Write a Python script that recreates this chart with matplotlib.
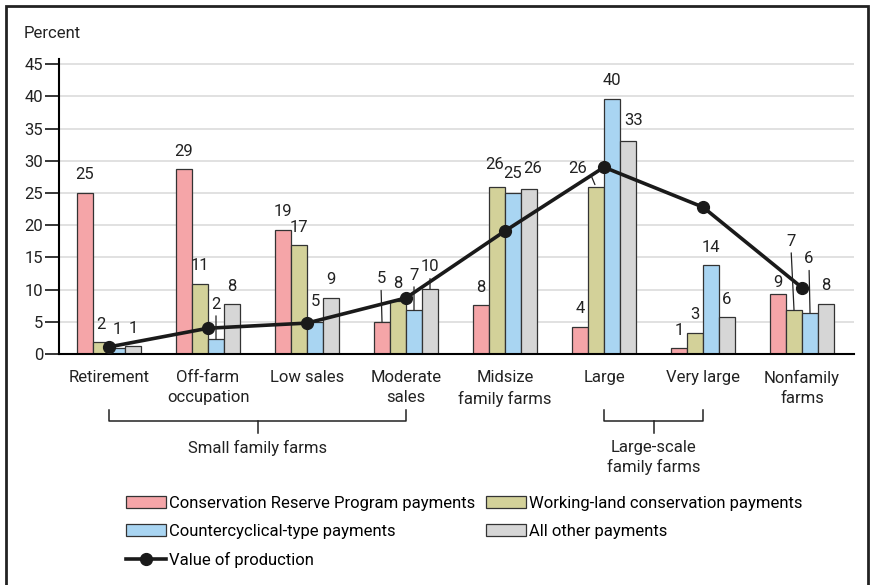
import numpy as np
import matplotlib
matplotlib.use("Agg")
import matplotlib.pyplot as plt
from matplotlib.patches import Rectangle
import matplotlib.transforms as mtransforms

plt.rcParams["font.family"] = ["Roboto", "DejaVu Sans"]
FS = 12
plt.rcParams["font.size"] = FS

categories = ["Retirement", "Off-farm\noccupation", "Low sales", "Moderate\nsales",
              "Midsize\nfamily farms", "Large", "Very large", "Nonfamily\nfarms"]

series_names = ["Conservation Reserve Program payments",
                "Working-land conservation payments",
                "Countercyclical-type payments",
                "All other payments"]

crp = [25.0, 28.7, 19.3, 5.0, 7.6, 4.2, 0.9, 9.3]
working_land = [1.8, 10.9, 16.9, 8.2, 25.9, 25.9, 3.3, 6.8]
countercyclical = [1.0, 2.3, 5.0, 6.8, 25.0, 39.6, 13.8, 6.4]
all_other = [1.2, 7.7, 8.7, 10.1, 25.6, 33.1, 5.7, 7.8]

crp_labels = ["25", "29", "19", "5", "8", "4", "1", "9"]
wl_labels = ["2", "11", "17", "8", "26", "26", "3", "7"]
cc_labels = ["1", "2", "5", "7", "25", "40", "14", "6"]
other_labels = ["1", "8", "9", "10", "26", "33", "6", "8"]

value_of_production = [1.1, 4.0, 4.8, 8.7, 19.1, 29.0, 22.8, 10.3]

colors = ["#F5A5A8", "#D3D199", "#A9D5F2", "#D6D6D6"]

# label offsets in pixels (dx, dy) and whether a leader line is drawn
label_offsets = {
    (1, 2): (0, 35, True),
    (3, 0): (-1, 43, True),
    (3, 2): (0, 35, True),
    (3, 3): (0, 22, True),
    (2, 2): (0, 20, False),
    (4, 1): (-2, 23, False),
    (4, 2): (0, 19, False),
    (4, 3): (4, 21, False),
    (5, 1): (-18, 19, "diag"),
    (5, 3): (6, 20, False),
    (7, 0): (0, 12, False),
    (7, 1): (-3, 69, True),
    (7, 2): (-1, 54, True),
}

fig = plt.figure(figsize=(8.71, 5.85), dpi=100)
ax = fig.add_axes([59 / 871, 1 - 354 / 585, (854 - 59) / 871, (354 - 59) / 585])

x = np.arange(len(categories))
w = 16 / 99
all_series = [crp, working_land, countercyclical, all_other]
all_labels = [crp_labels, wl_labels, cc_labels, other_labels]

for s, (vals, col) in enumerate(zip(all_series, colors)):
    xs = x + (s - 1.5) * w
    ax.bar(xs, vals, w, color=col, edgecolor="#333333", linewidth=0.9, zorder=2,
           label=series_names[s])
    for i, (xi, v) in enumerate(zip(xs, vals)):
        dx, dy, leader = label_offsets.get((i, s), (0, 18, False))
        kw = {}
        if leader is True:
            kw["arrowprops"] = dict(arrowstyle="-", lw=0.9, color="#222222",
                                    shrinkA=1, shrinkB=0, relpos=(0.5, 0))
        elif leader == "diag":
            kw["arrowprops"] = dict(arrowstyle="-", lw=0.9, color="#222222",
                                    shrinkA=1, shrinkB=2, relpos=(1, 0.6))
        ax.annotate(all_labels[s][i], (xi, v), xytext=(dx, dy), textcoords="offset pixels",
                    ha="center", va="center", fontsize=FS, color="#222222", zorder=5, **kw)

ax.plot(x, value_of_production, color="#1a1a1a", lw=2.6, marker="o", markersize=8.5,
        zorder=4, label="Value of production")

ax.set_xlim(-0.505, 7.525)
ax.set_ylim(0, 45.8)
ax.set_yticks(np.arange(0, 46, 5))
ax.yaxis.grid(True, color="#D8D8D8", lw=1.1, zorder=0)
ax.set_axisbelow(True)
ax.set_xticks(x)
ax.set_xticklabels(categories, linespacing=1.45, color="#222222")
ax.tick_params(axis="x", length=0, pad=11.5, labelsize=FS)
ax.tick_params(axis="y", length=10, width=1.1, pad=1.5, labelsize=FS, labelcolor="#222222")
for side in ["top", "right"]:
    ax.spines[side].set_visible(False)
ax.spines["left"].set_linewidth(1.5)
ax.spines["bottom"].set_linewidth(1.5)

# group brackets
tr = mtransforms.blended_transform_factory(ax.transData, ax.transAxes)
def bracket(x0, x1, text):
    y_top, y_bot, y_tick = -0.19, -0.227, -0.268
    xm = (x0 + x1) / 2
    ax.plot([x0, x0, x1, x1], [y_top, y_bot, y_bot, y_top], color="#222222", lw=1.1,
            transform=tr, clip_on=False)
    ax.plot([xm, xm], [y_bot, y_tick], color="#222222", lw=1.1, transform=tr, clip_on=False)
    ax.text(xm, -0.292, text, ha="center", va="top", transform=tr, fontsize=FS,
            linespacing=1.3, color="#222222")

bracket(0, 3, "Small family farms")
bracket(5, 6, "Large-scale\nfamily farms")

fig.text(24 / 871, 1 - 33 / 585, "Percent", ha="left", va="center", fontsize=FS, color="#222222")

handles, labels = ax.get_legend_handles_labels()
hmap = dict(zip(labels, handles))
order = [series_names[0], series_names[2], "Value of production", series_names[1], series_names[3]]
fig.legend([hmap[k] for k in order], order, loc="upper left",
           bbox_to_anchor=(126 / 871, 1 - 496 / 585), ncol=2, frameon=False,
           borderpad=0, borderaxespad=0, handlelength=2.4, handleheight=0.7,
           handletextpad=0.2, columnspacing=0.6, labelspacing=0.78, fontsize=FS)

fig.add_artist(Rectangle((6 / 871, -0.05), (868 - 6) / 871, 1.05 - 6 / 585,
                         transform=fig.transFigure, fill=False, edgecolor="#222222", lw=2))

fig.savefig("out.png", dpi=100)
